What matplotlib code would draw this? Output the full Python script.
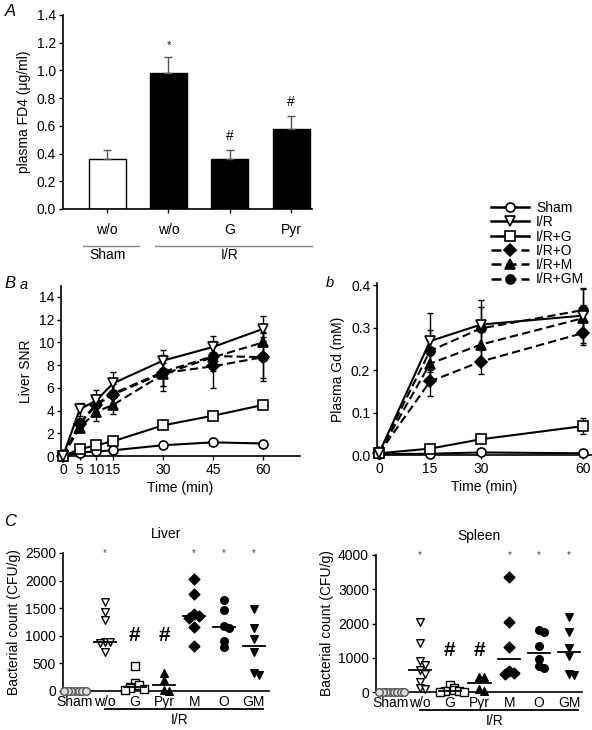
import numpy as np
import matplotlib
matplotlib.use('Agg')
from matplotlib import pyplot as plt
from matplotlib.lines import Line2D

plt.rcParams['font.family'] = ['Liberation Sans', 'DejaVu Sans']
plt.rcParams['font.size'] = 10

# ---- panel A data
fd4_labels = ['w/o', 'w/o', 'G', 'Pyr']
fd4_mean = [0.36, 0.985, 0.36, 0.58]
fd4_err = [0.065, 0.115, 0.065, 0.09]
fd4_marks = ['', '*', '#', '#']

# ---- panel B a (liver SNR)
times_a = [0, 5, 10, 15, 30, 45, 60]
snr = {
    'Sham':    [0, 0.3, 0.4, 0.5, 0.95, 1.2, 1.1],
    'I/R':     [0, 4.1, 4.9, 6.4, 8.4, 9.6, 11.2],
    'I/R+G':   [0, 0.6, 0.95, 1.3, 2.7, 3.55, 4.5],
    'I/R+O':   [0, 2.8, 4.5, 5.4, 7.3, 7.9, 8.7],
    'I/R+M':   [0, 2.5, 3.9, 4.5, 7.2, 8.7, 10.0],
    'I/R+GM':  [0, 2.9, 4.6, 5.5, 7.4, 8.8, 8.7],
}
snr_err = {
    'Sham':    [0, 0.05, 0.1, 0.1, 0.1, 0.15, 0.15],
    'I/R':     [0, 0.6, 0.9, 1.0, 0.9, 1.0, 1.1],
    'I/R+G':   [0, 0.1, 0.15, 0.2, 0.2, 0.25, 0.3],
    'I/R+O':   [0, 0.4, 0.8, 0.9, 1.6, 1.9, 2.1],
    'I/R+M':   [0, 0.4, 0.8, 0.8, 1.0, 1.0, 0.9],
    'I/R+GM':  [0, 0.4, 0.7, 0.9, 1.2, 1.3, 1.8],
}

# ---- panel B b (plasma Gd)
times_b = [0, 15, 30, 60]
gd = {
    'Sham':    [0.002, 0.003, 0.006, 0.004],
    'I/R':     [0.004, 0.268, 0.307, 0.328],
    'I/R+G':   [0.004, 0.015, 0.037, 0.068],
    'I/R+O':   [0.004, 0.173, 0.220, 0.287],
    'I/R+M':   [0.004, 0.215, 0.260, 0.322],
    'I/R+GM':  [0.004, 0.245, 0.298, 0.341],
}
gd_err = {
    'Sham':    [0, 0.002, 0.002, 0.002],
    'I/R':     [0, 0.067, 0.058, 0.065],
    'I/R+G':   [0, 0.004, 0.006, 0.018],
    'I/R+O':   [0, 0.035, 0.030, 0.027],
    'I/R+M':   [0, 0.040, 0.040, 0.030],
    'I/R+GM':  [0, 0.050, 0.050, 0.050],
}

# ---- panel C data
c_groups = ['Sham', 'w/o', 'G', 'Pyr', 'M', 'O', 'GM']
liver = [
    [0, 0, 0, 0, 0, 0, 0],
    [1620, 1440, 1290, 890, 880, 870, 710],
    [450, 150, 100, 80, 50, 30, 20],
    [320, 200, 10, 0],
    [2030, 1760, 1400, 1350, 1330, 1160, 820],
    [1640, 1460, 1180, 1150, 900, 800],
    [1480, 1150, 940, 700, 330, 290],
]
spleen = [
    [0, 0, 0, 0, 0, 0, 0, 0],
    [2030, 1420, 900, 800, 640, 530, 290, 130, 100],
    [190, 120, 50, 30, 20, 0, 0],
    [440, 430, 100, 20],
    [3370, 2050, 1320, 600, 560, 530],
    [1810, 1760, 1340, 960, 760, 700],
    [2190, 1760, 1280, 1060, 530, 500],
]
c_marks = ['', '*', '#', '#', '*', '*', '*']

styles = {
    'Sham':   dict(marker='o', mfc='white', ls='-'),
    'I/R':    dict(marker='v', mfc='white', ls='-'),
    'I/R+G':  dict(marker='s', mfc='white', ls='-'),
    'I/R+O':  dict(marker='D', mfc='black', ls=(0, (4, 2))),
    'I/R+M':  dict(marker='^', mfc='black', ls=(0, (4, 2))),
    'I/R+GM': dict(marker='o', mfc='black', ls=(0, (4, 2))),
}
c_styles = [
    dict(marker='o', facecolors='#dddddd', edgecolors='#555555'),
    dict(marker='v', facecolors='white', edgecolors='black'),
    dict(marker='s', facecolors='white', edgecolors='black'),
    dict(marker='^', facecolors='black', edgecolors='black'),
    dict(marker='D', facecolors='black', edgecolors='black'),
    dict(marker='o', facecolors='black', edgecolors='black'),
    dict(marker='v', facecolors='black', edgecolors='black'),
]

W, H = 592, 730
fig = plt.figure(figsize=(W / 100, H / 100), dpi=100)


def px_axes(l, t, r, b):
    return fig.add_axes([l / W, 1 - b / H, (r - l) / W, (b - t) / H])


def style_axes(ax):
    for s in ['top', 'right']:
        ax.spines[s].set_visible(False)
    for s in ['left', 'bottom']:
        ax.spines[s].set_linewidth(1.2)
    ax.tick_params(direction='out', length=3, width=1, labelsize=10, pad=2)


# ================= panel A
axA = px_axes(63, 15, 312, 209)
style_axes(axA)
xa = np.arange(len(fd4_mean))
colors = ['white', 'black', 'black', 'black']
axA.bar(xa, fd4_mean, width=0.6, color=colors, edgecolor='black', linewidth=1)
axA.errorbar(xa, fd4_mean, yerr=[np.zeros(4), fd4_err], fmt='none',
             ecolor='#555555', elinewidth=1, capsize=3)
for x, m, e, t in zip(xa, fd4_mean, fd4_err, fd4_marks):
    if t:
        axA.text(x, m + e + 0.05, t, ha='center', va='bottom',
                 fontsize=8 if t == '*' else 10)
axA.set_xlim(-0.72, 3.34)
axA.set_ylim(0, 1.4)
axA.set_yticks(np.arange(0, 1.41, 0.2))
axA.set_yticklabels(['%.1f' % v for v in np.arange(0, 1.41, 0.2)])
axA.set_xticks(xa)
axA.set_xticklabels(fd4_labels)
axA.tick_params(axis='x', pad=7)
axA.set_ylabel('plasma FD4 (\u03bcg/ml)', labelpad=4)
# group labels
axA.plot([-0.4, 0.52], [-0.19, -0.19], color='#888888', lw=1,
         transform=axA.get_xaxis_transform(), clip_on=False)
axA.plot([0.78, 3.34], [-0.19, -0.19], color='#888888', lw=1,
         transform=axA.get_xaxis_transform(), clip_on=False)
axA.text(0, -0.2, 'Sham', ha='center', va='top',
         transform=axA.get_xaxis_transform())
axA.text(2, -0.2, 'I/R', ha='center', va='top',
         transform=axA.get_xaxis_transform())
fig.text(5 / W, 1 - 12 / H, 'A', fontsize=12, style='italic', va='center')


# ================= panel B
def draw_time(ax, t, data, err, ms):
    order = ['I/R+O', 'I/R+M', 'I/R+GM', 'Sham', 'I/R+G', 'I/R']
    for k in order:
        st = styles[k]
        ax.errorbar(t, data[k], yerr=err[k], fmt='none', ecolor='black',
                    elinewidth=1, capsize=2, capthick=1, clip_on=False)
        ax.plot(t, data[k], color='black', lw=1.5, ls=st['ls'],
                marker=st['marker'], mfc=st['mfc'], mec='black', mew=1.2,
                ms=ms, clip_on=False, zorder=3)


axBa = px_axes(61, 285.6, 300, 456)
style_axes(axBa)
draw_time(axBa, times_a, snr, snr_err, 6.5)
axBa.set_xlim(-0.6, 71)
axBa.set_ylim(0, 15)
axBa.set_yticks(range(0, 15, 2))
axBa.set_xticks(times_a)
axBa.set_xlabel('Time (min)', labelpad=3)
axBa.set_ylabel('Liver SNR', labelpad=4)

axBb = px_axes(377.3, 282.9, 591.5, 455)
style_axes(axBb)
draw_time(axBb, times_b, gd, gd_err, 6.5)
axBb.set_xlim(-0.5, 62.5)
axBb.set_ylim(0, 0.405)
axBb.set_yticks(np.arange(0, 0.41, 0.1))
axBb.set_yticklabels(['%.1f' % v for v in np.arange(0, 0.41, 0.1)])
axBb.set_xticks(times_b)
axBb.set_xlabel('Time (min)', labelpad=3)
axBb.set_ylabel('Plasma Gd (mM)', labelpad=4)

fig.text(4 / W, 1 - 283 / H, 'B', fontsize=12, style='italic', va='center')
fig.text(20 / W, 1 - 285 / H, 'a', fontsize=10.5, style='italic', va='center')
fig.text(326 / W, 1 - 283 / H, 'b', fontsize=10.5, style='italic', va='center')

handles = [Line2D([], [], color='black', lw=1.8, ls=styles[k]['ls'],
                  marker=styles[k]['marker'], mfc=styles[k]['mfc'],
                  mec='black', mew=1.2, ms=6.5) for k in snr]
fig.legend(handles, list(snr.keys()), loc='upper left',
           bbox_to_anchor=(491 / W, 1 - 201 / H), frameon=False,
           fontsize=10, handlelength=2.7, handletextpad=0.55,
           labelspacing=0.02, borderaxespad=0, borderpad=0)


# ================= panel C
def swarm_offsets(vals, span, step=0.15):
    offs = np.zeros(len(vals))
    placed = []
    for i, v in enumerate(vals):
        near = sum(1 for p in placed if abs(p - v) < span)
        k = (near + 1) // 2
        sign = 1 if near % 2 else -1
        offs[i] = sign * k * step if near else 0
        placed.append(v)
    return offs


def draw_scatter(ax, groups, ymax, title):
    style_axes(ax)
    for i, vals in enumerate(groups):
        offs = swarm_offsets(vals, ymax * 0.035, 0.12 if i == 0 else 0.16)
        ax.scatter(i + offs, vals, s=30, linewidths=1, clip_on=False,
                   zorder=3, **c_styles[i])
        if i > 0:
            med = np.median(vals)
            ax.plot([i - 0.37, i + 0.37], [med, med], color='black', lw=1.3,
                    zorder=4)
        if c_marks[i] == '*':
            ax.text(i, ymax, '*', ha='center', va='center', fontsize=7,
                    color='#444444')
        elif c_marks[i] == '#':
            ax.text(i, ymax * (0.4 if ymax < 3000 else 0.3), '#',
                    ha='center', va='center', fontsize=15, fontweight='bold')
    ax.set_xticks(range(len(c_groups)))
    ax.set_xticklabels(c_groups)
    ax.tick_params(axis='x', length=0, pad=3)
    ax.set_title(title, fontsize=10, pad=11)
    ax.set_ylabel('Bacterial count (CFU/g)', labelpad=3)
    tr = ax.get_xaxis_transform()
    ax.plot([1, 6.3], [-0.13, -0.13], color='black', lw=1.3, transform=tr,
            clip_on=False)
    ax.text(3.5, -0.16, 'I/R', ha='center', va='top', transform=tr)


axCl = px_axes(63, 553, 268.7, 691)
draw_scatter(axCl, liver, 2500, 'Liver')
axCl.set_xlim(-0.4, 6.5)
axCl.set_ylim(0, 2500)
axCl.set_yticks(range(0, 2501, 500))

axCs = px_axes(376, 555, 582.4, 692)
draw_scatter(axCs, spleen, 4000, 'Spleen')
axCs.set_xlim(-0.47, 6.45)
axCs.set_ylim(0, 4000)
axCs.set_yticks(range(0, 4001, 1000))

fig.text(4 / W, 1 - 522 / H, 'C', fontsize=12, style='italic', va='center')

fig.savefig('out.png', dpi=100)
